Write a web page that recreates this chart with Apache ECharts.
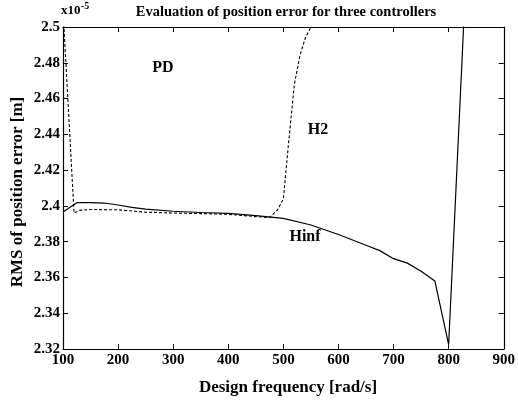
<!DOCTYPE html>
<html>
<head>
<meta charset="utf-8">
<script src="https://cdn.jsdelivr.net/npm/echarts@6/dist/echarts.min.js"></script>
<style>
  html, body { margin: 0; padding: 0; background: #fff; }
  #chart { width: 518px; height: 400px; }
</style>
</head>
<body>
<div id="chart"></div>
<script>
// Design frequency [rad/s] and RMS position error (x1e-5 m) per controller
const hinfFreq = [100, 125, 150, 175, 200, 225, 250, 300, 350, 400, 450, 500, 550, 600, 650, 675, 700, 725, 750, 775, 800, 850];
const hinfRms  = [2.3966, 2.4018, 2.4018, 2.4016, 2.4005, 2.3992, 2.3982, 2.3970, 2.3963, 2.3958, 2.3946, 2.3930, 2.3893, 2.3840, 2.3780, 2.3750, 2.3705, 2.3680, 2.3635, 2.3580, 2.3225, 2.6500];

const h2Freq = [100, 120, 130, 150, 200, 250, 300, 350, 400, 450, 475, 490, 500, 510, 520, 530, 540, 550, 575];
const h2Rms  = [2.5100, 2.3960, 2.3975, 2.3980, 2.3978, 2.3965, 2.3960, 2.3957, 2.3953, 2.3940, 2.3935, 2.3980, 2.4040, 2.4370, 2.4680, 2.4840, 2.4940, 2.5000, 2.5200];

const xTicks = { min: 100, max: 900, step: 100 };
const yTicks = { min: 2.32, max: 2.5, step: 0.02 };

const titleText = 'Evaluation of position error for three controllers';
const xName = 'Design frequency [rad/s]';
const yName = 'RMS of position error [m]';
const curveNames = ['PD', 'H2', 'Hinf'];

const serif = '"Liberation Serif", "DejaVu Serif", serif';
const pair = (xs, ys) => xs.map((x, i) => [x, ys[i]]);

const chart = echarts.init(document.getElementById('chart'));

const tickStyle = { show: true, inside: true, length: 5, lineStyle: { color: '#000', width: 1 } };
const lineAx = { show: true, onZero: false, lineStyle: { color: '#000', width: 1.2 } };
const labelFont = { color: '#000', fontFamily: serif, fontWeight: 'bold', fontSize: 15 };
const centred = (text, size) => ({ text, font: 'bold ' + size + 'px ' + serif, fill: '#000', align: 'center', verticalAlign: 'middle' });

chart.setOption({
  animation: false,
  backgroundColor: '#fff',
  grid: { left: 63, right: 10, top: 27, bottom: 51 },
  xAxis: [
    {
      type: 'value', min: xTicks.min, max: xTicks.max, interval: xTicks.step,
      axisLine: lineAx, axisTick: tickStyle, splitLine: { show: false },
      axisLabel: Object.assign({ margin: 4 }, labelFont)
    },
    {
      type: 'value', position: 'top', min: xTicks.min, max: xTicks.max, interval: xTicks.step,
      axisLine: lineAx, axisTick: tickStyle, splitLine: { show: false },
      axisLabel: { show: false }
    }
  ],
  yAxis: [
    {
      type: 'value', min: yTicks.min, max: yTicks.max, interval: yTicks.step,
      axisLine: lineAx, axisTick: tickStyle, splitLine: { show: false },
      axisLabel: Object.assign({ margin: 3, formatter: v => String(parseFloat(v.toFixed(2))) }, labelFont)
    },
    {
      type: 'value', position: 'right', min: yTicks.min, max: yTicks.max, interval: yTicks.step,
      axisLine: lineAx, axisTick: tickStyle, splitLine: { show: false },
      axisLabel: { show: false }
    }
  ],
  series: [
    {
      name: 'Hinf', type: 'line', data: pair(hinfFreq, hinfRms),
      showSymbol: false, clip: true,
      lineStyle: { color: '#000', width: 1.2 }
    },
    {
      name: 'H2', type: 'line', data: pair(h2Freq, h2Rms),
      showSymbol: false, clip: true,
      lineStyle: { color: '#000', width: 1.1, type: [3, 2] }
    }
  ],
  graphic: [
    { type: 'text', x: 286, y: 12, style: centred(titleText, 14.5) },
    { type: 'text', x: 61, y: 4, style: { text: 'x10', font: 'bold 13px ' + serif, fill: '#000' } },
    { type: 'text', x: 81, y: 1, style: { text: '-5', font: 'bold 10px ' + serif, fill: '#000' } },
    { type: 'text', x: 288, y: 388, style: centred(xName, 17) },
    { type: 'text', x: 18, y: 192, rotation: Math.PI / 2, style: centred(yName, 17) },
    { type: 'text', x: 163, y: 68, style: centred(curveNames[0], 16) },
    { type: 'text', x: 318, y: 130, style: centred(curveNames[1], 16) },
    { type: 'text', x: 305, y: 237, style: centred(curveNames[2], 16) }
  ]
});
</script>
</body>
</html>
